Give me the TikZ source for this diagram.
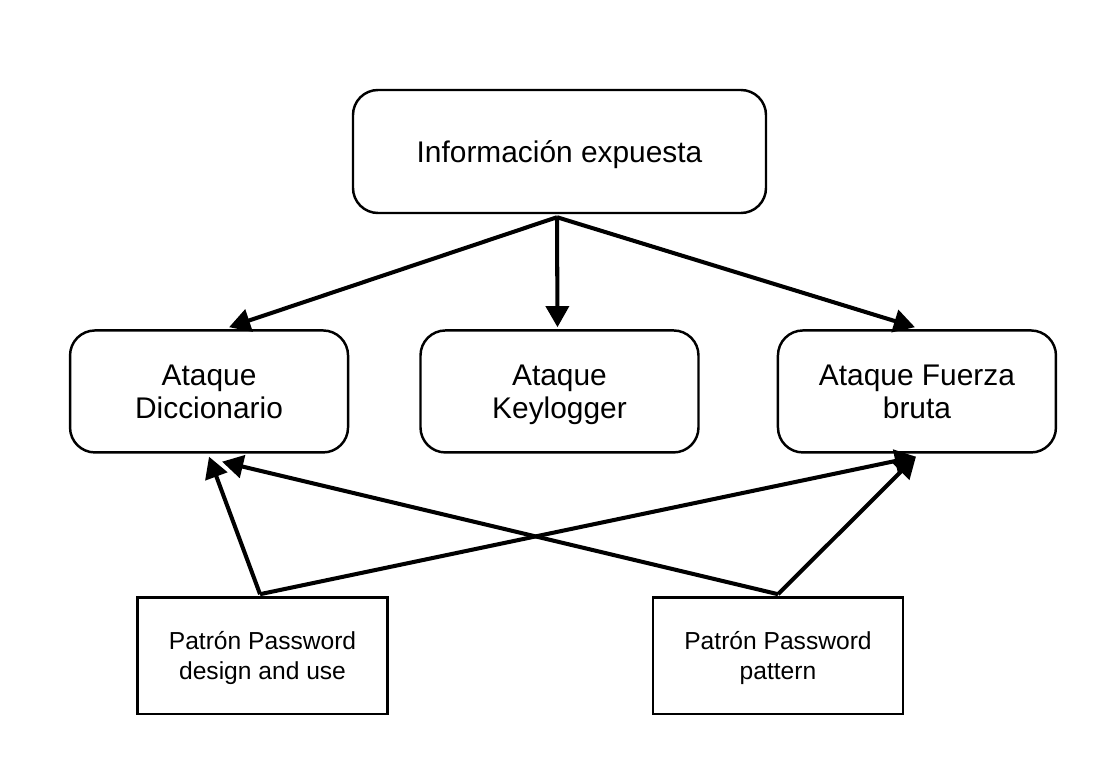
\documentclass[tikz,border=0pt]{standalone}
\usepackage{fontspec}
\setmainfont{Liberation Sans}
\usetikzlibrary{arrows.meta, positioning, calc}
\tikzset{
  ataque/.style={draw, line width=1.4pt, rounded corners=0.5cm, minimum width=5.56cm, minimum height=2.44cm, align=center, text depth=0pt, font=\fontsize{17}{19}\selectfont},
  patron/.style={draw, line width=1.4pt, minimum width=5cm, minimum height=2.33cm, align=center, text depth=0pt, font=\fontsize{14}{17}\selectfont},
  flecha/.style={-{Triangle[length=12pt,width=13pt]}, line width=2.3pt}
}

\begin{document}
\begin{tikzpicture}[node distance=2.3cm]
\useasboundingbox (0,0) rectangle (22.24,-15.48);
\node[ataque, minimum width=8.26cm, minimum height=2.46cm] (info) at (11.19,-3.03) {Información expuesta};
\node[ataque, below=of info] (key) {Ataque\\Keylogger};
\node[ataque, left=1.4cm of key] (dicc) {Ataque\\Diccionario};
\node[ataque, right=1.54cm of key] (fuerza) {Ataque Fuerza\\bruta};
\node[patron, below=2.85cm of dicc, xshift=1.07cm] (pd) {Patrón Password\\design and use};
\node[patron, right=5.26cm of pd] (pp) {Patrón Password\\pattern};
\draw [flecha] ($(info.south)+(-0.05,-0.06)$) -- ($(dicc.north)+(0.4,0.04)$);
\draw [flecha] ($(info.south)+(-0.05,-0.06)$) -- ($(key.north)+(-0.04,0.04)$);
\draw [flecha] ($(info.south)+(-0.05,-0.06)$) -- ($(fuerza.north)+(-0.04,0.04)$);
\draw [flecha] ($(pd.north)+(-0.05,0.04)$) -- ($(dicc.south)+(0,-0.06)$);
\draw [flecha] ($(pd.north)+(-0.05,0.04)$) -- ($(fuerza.south)+(-0.02,-0.06)$);
\draw [flecha] ($(pp.north)+(0,0.04)$) -- ($(dicc.south)+(0.26,-0.16)$);
\draw [flecha] ($(pp.north)+(0,0.04)$) -- ($(fuerza.south)+(-0.02,-0.06)$);
\end{tikzpicture}
\end{document}
